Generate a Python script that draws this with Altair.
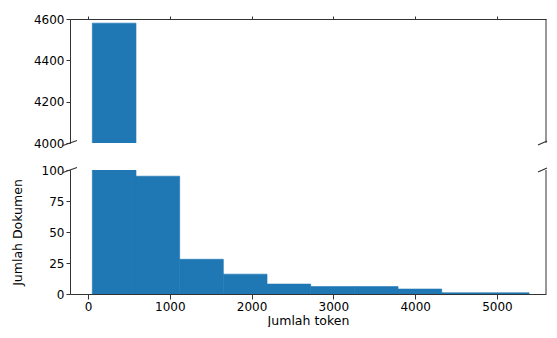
import altair as alt
import pandas as pd

# Histogram bins
bin_start = [53, 587, 1121, 1655, 2189, 2723, 3257, 3791, 4325, 4859]
bin_end = [587, 1121, 1655, 2189, 2723, 3257, 3791, 4325, 4859, 5393]
counts = [4580, 95, 28, 16, 8, 6, 6, 4, 1, 1]

x_ticks = [0, 1000, 2000, 3000, 4000, 5000]
top_ticks = [4000, 4200, 4400, 4600]
bottom_ticks = [0, 25, 50, 75, 100]
top_domain = [4000, 4600]
bottom_domain = [0, 100]
x_domain = [-220, 5600]

df = pd.DataFrame({"start": bin_start, "end": bin_end, "count": counts, "base": [0] * len(counts)})
one = pd.DataFrame({"k": [0]})

W, H = 476, 124
FONT = "DejaVu Sans"
LINE = "#333333"
BAR = "#1f77b4"


def rule(x1, x2, y1, y2, width=1.0):
    return alt.Chart(one).mark_rule(color=LINE, strokeWidth=width).encode(
        x=alt.value(x1), x2=alt.value(x2), y=alt.value(y1), y2=alt.value(y2)
    )


def panel(ydom, yticks, top):
    xscale = alt.Scale(domain=x_domain, nice=False, zero=False)
    yscale = alt.Scale(domain=ydom, nice=False, zero=False)
    if top:
        xaxis = alt.Axis(orient="top", values=x_ticks, labels=False, title=None,
                         grid=False, tickSize=3)
        yaxis = alt.Axis(values=yticks, title=None, grid=False, format="d", tickSize=4)
    else:
        xaxis = alt.Axis(values=x_ticks, title="Jumlah token", grid=False, format="d",
                         tickSize=5, titlePadding=2)
        yaxis = alt.Axis(values=yticks, title="Jumlah Dokumen", grid=False, format="d",
                         tickSize=4, titleX=-46, titleY=H / 2)
    bars = alt.Chart(df).mark_rect(color=BAR, stroke=BAR, strokeWidth=0.6, clip=True).encode(
        x=alt.X("start:Q", scale=xscale, axis=xaxis),
        x2="end:Q",
        y=alt.Y("count:Q", scale=yscale, axis=yaxis),
        y2="base:Q",
    )
    right_spine = rule(W, W, 0, H)
    yb = H if top else 0
    breaks = [
        rule(-7, 7, yb + 2.5, yb - 2.5, 1.2),
        rule(W - 8, W + 1, yb + 2, yb - 2, 1.2),
    ]
    return alt.layer(bars, right_spine, *breaks).properties(width=W, height=H)


top = panel(top_domain, top_ticks, True)
bottom = panel(bottom_domain, bottom_ticks, False)

chart = alt.vconcat(top, bottom, spacing=27, bounds="flush").properties(
    padding={"left": 2, "top": 5, "right": 0, "bottom": 0}
).configure_view(stroke=None).configure_axis(
    labelFont=FONT, titleFont=FONT, labelFontSize=12, titleFontSize=12.5,
    labelColor="#000000", titleColor="#000000", titleFontWeight="normal",
    domainColor=LINE, tickColor=LINE, domainWidth=1, tickWidth=1, labelPadding=2,
)

chart.save("out.html", embed_options={"renderer": "svg", "actions": False})
